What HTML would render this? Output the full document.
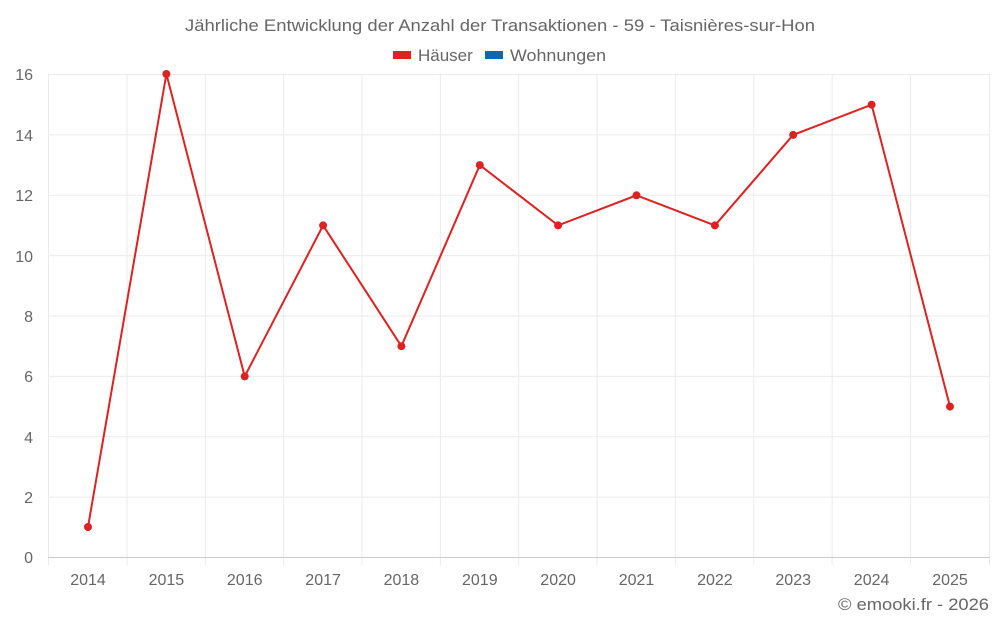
<!DOCTYPE html>
<html><head><meta charset="utf-8"><style>
body{margin:0;background:#fff;}
svg text{font-family:"Liberation Sans",sans-serif;fill:#666;}
</style></head><body>
<svg width="1000" height="625" xmlns="http://www.w3.org/2000/svg">
<text x="500" y="31" font-size="17" text-anchor="middle" textLength="630" lengthAdjust="spacingAndGlyphs">Jährliche Entwicklung der Anzahl der Transaktionen - 59 - Taisnières-sur-Hon</text>
<rect x="393" y="51" width="18" height="8" fill="#dd2222"/>
<text x="418" y="61" font-size="17">Häuser</text>
<rect x="485" y="51" width="18" height="8" fill="#0a69a8"/>
<text x="510" y="61" font-size="17" textLength="96" lengthAdjust="spacingAndGlyphs">Wohnungen</text>
<g stroke="#ebebeb" stroke-width="1">
<line x1="48" y1="74.5" x2="990" y2="74.5"/>
<line x1="48" y1="134.9" x2="990" y2="134.9"/>
<line x1="48" y1="195.3" x2="990" y2="195.3"/>
<line x1="48" y1="255.6" x2="990" y2="255.6"/>
<line x1="48" y1="316" x2="990" y2="316"/>
<line x1="48" y1="376.4" x2="990" y2="376.4"/>
<line x1="48" y1="436.8" x2="990" y2="436.8"/>
<line x1="48" y1="497.1" x2="990" y2="497.1"/>
<line x1="48.5" y1="74" x2="48.5" y2="565"/>
<line x1="127" y1="74" x2="127" y2="565"/>
<line x1="205.3" y1="74" x2="205.3" y2="565"/>
<line x1="283.7" y1="74" x2="283.7" y2="565"/>
<line x1="362" y1="74" x2="362" y2="565"/>
<line x1="440.4" y1="74" x2="440.4" y2="565"/>
<line x1="518.7" y1="74" x2="518.7" y2="565"/>
<line x1="597.1" y1="74" x2="597.1" y2="565"/>
<line x1="675.4" y1="74" x2="675.4" y2="565"/>
<line x1="753.8" y1="74" x2="753.8" y2="565"/>
<line x1="832.1" y1="74" x2="832.1" y2="565"/>
<line x1="910.5" y1="74" x2="910.5" y2="565"/>
<line x1="989.5" y1="74" x2="989.5" y2="565"/>
</g>
<line x1="48" y1="557.5" x2="990" y2="557.5" stroke="#ccc"/>
<g font-size="16" text-anchor="end">
<text x="33" y="563">0</text><text x="33" y="503">2</text><text x="33" y="443">4</text><text x="33" y="382">6</text><text x="33" y="322">8</text><text x="33" y="262">10</text><text x="33" y="201">12</text><text x="33" y="141">14</text><text x="33" y="80">16</text>
</g>
<g font-size="16" text-anchor="middle">
<text x="88" y="585">2014</text><text x="166.4" y="585">2015</text><text x="244.7" y="585">2016</text><text x="323.1" y="585">2017</text><text x="401.4" y="585">2018</text><text x="479.8" y="585">2019</text><text x="558.1" y="585">2020</text><text x="636.5" y="585">2021</text><text x="714.9" y="585">2022</text><text x="793.2" y="585">2023</text><text x="871.6" y="585">2024</text><text x="950" y="585">2025</text>
</g>
<text x="989" y="610" font-size="17" text-anchor="end" textLength="151" lengthAdjust="spacingAndGlyphs">© emooki.fr - 2026</text>
<polyline fill="none" stroke="#dd2222" stroke-width="2" points="88,527 166.4,74 244.7,376.4 323.1,225.4 401.4,346.2 479.8,165.1 558.1,225.4 636.5,195.3 714.9,225.4 793.2,134.9 871.6,104.7 950,406.6"/>
<g fill="#dd2222">
<circle cx="88" cy="527" r="4"/><circle cx="166.4" cy="74" r="4"/><circle cx="244.7" cy="376.4" r="4"/><circle cx="323.1" cy="225.4" r="4"/><circle cx="401.4" cy="346.2" r="4"/><circle cx="479.8" cy="165.1" r="4"/><circle cx="558.1" cy="225.4" r="4"/><circle cx="636.5" cy="195.3" r="4"/><circle cx="714.9" cy="225.4" r="4"/><circle cx="793.2" cy="134.9" r="4"/><circle cx="871.6" cy="104.7" r="4"/><circle cx="950" cy="406.6" r="4"/>
</g>
</svg>
</body></html>
